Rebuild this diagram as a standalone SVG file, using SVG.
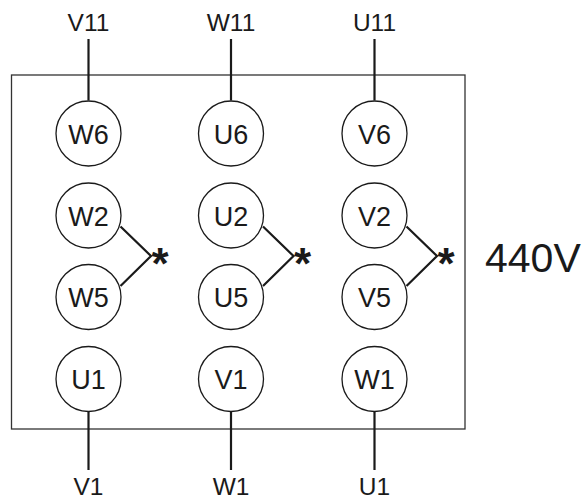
<svg xmlns="http://www.w3.org/2000/svg" width="587" height="500" viewBox="0 0 587 500">
<style>
.t{font-family:"Liberation Sans",Arial,sans-serif;fill:#1a1a1a;text-anchor:middle}
.lbl{font-size:24.5px}
.in{font-size:27px}
.c{fill:#fff;stroke:#1a1a1a;stroke-width:1.3}
.w{fill:none;stroke:#1a1a1a;stroke-width:2.2}
.box{fill:none;stroke:#333;stroke-width:1.3}
.ast{font-family:"Liberation Sans",Arial,sans-serif;font-size:44px;font-weight:bold;fill:#1a1a1a}
</style>
<rect id="box" class="box" x="11.5" y="75" width="453.5" height="354"/>
<g id="connectors">
<line class="w" x1="88.5" y1="39" x2="88.5" y2="100.5"/>
<line class="w" x1="231" y1="39" x2="231" y2="100.5"/>
<line class="w" x1="374.5" y1="39" x2="374.5" y2="100.5"/>
<line class="w" x1="88.5" y1="411.5" x2="88.5" y2="470"/>
<line class="w" x1="231" y1="411.5" x2="231" y2="470"/>
<line class="w" x1="374.5" y1="411.5" x2="374.5" y2="470"/>
<polyline class="w" points="120.5,226.5 151,256 120.5,286"/>
<polyline class="w" points="263,226.5 293.5,256 263,286"/>
<polyline class="w" points="406.5,226.5 437,256 406.5,286"/>
</g>
<g id="labels">
<text class="t lbl" x="88.5" y="31">V11</text>
<text class="t lbl" x="231" y="31">W11</text>
<text class="t lbl" x="374.5" y="31">U11</text>
<text class="t lbl" x="88.5" y="495">V1</text>
<text class="t lbl" x="231" y="495">W1</text>
<text class="t lbl" x="374.5" y="495">U1</text>
<text class="ast" x="151.5" y="278.5">*</text>
<text class="ast" x="294" y="278.5">*</text>
<text class="ast" x="437.5" y="278.5">*</text>
<text id="voltage" class="t" style="font-size:41px;text-anchor:start" x="485" y="271.5">440V</text>
</g>
<g id="W6"><circle class="c" cx="88.5" cy="133.5" r="32.5"/><text class="t in" x="88.5" y="143.5">W6</text></g>
<g id="U6"><circle class="c" cx="231" cy="133.5" r="32.5"/><text class="t in" x="231" y="143.5">U6</text></g>
<g id="V6"><circle class="c" cx="374.5" cy="133.5" r="32.5"/><text class="t in" x="374.5" y="143.5">V6</text></g>
<g id="W2"><circle class="c" cx="88.5" cy="215.5" r="32.5"/><text class="t in" x="88.5" y="225.5">W2</text></g>
<g id="U2"><circle class="c" cx="231" cy="215.5" r="32.5"/><text class="t in" x="231" y="225.5">U2</text></g>
<g id="V2"><circle class="c" cx="374.5" cy="215.5" r="32.5"/><text class="t in" x="374.5" y="225.5">V2</text></g>
<g id="W5"><circle class="c" cx="88.5" cy="297" r="32.5"/><text class="t in" x="88.5" y="307">W5</text></g>
<g id="U5"><circle class="c" cx="231" cy="297" r="32.5"/><text class="t in" x="231" y="307">U5</text></g>
<g id="V5"><circle class="c" cx="374.5" cy="297" r="32.5"/><text class="t in" x="374.5" y="307">V5</text></g>
<g id="U1"><circle class="c" cx="88.5" cy="379" r="32.5"/><text class="t in" x="88.5" y="389">U1</text></g>
<g id="V1"><circle class="c" cx="231" cy="379" r="32.5"/><text class="t in" x="231" y="389">V1</text></g>
<g id="W1"><circle class="c" cx="374.5" cy="379" r="32.5"/><text class="t in" x="374.5" y="389">W1</text></g>
</svg>
